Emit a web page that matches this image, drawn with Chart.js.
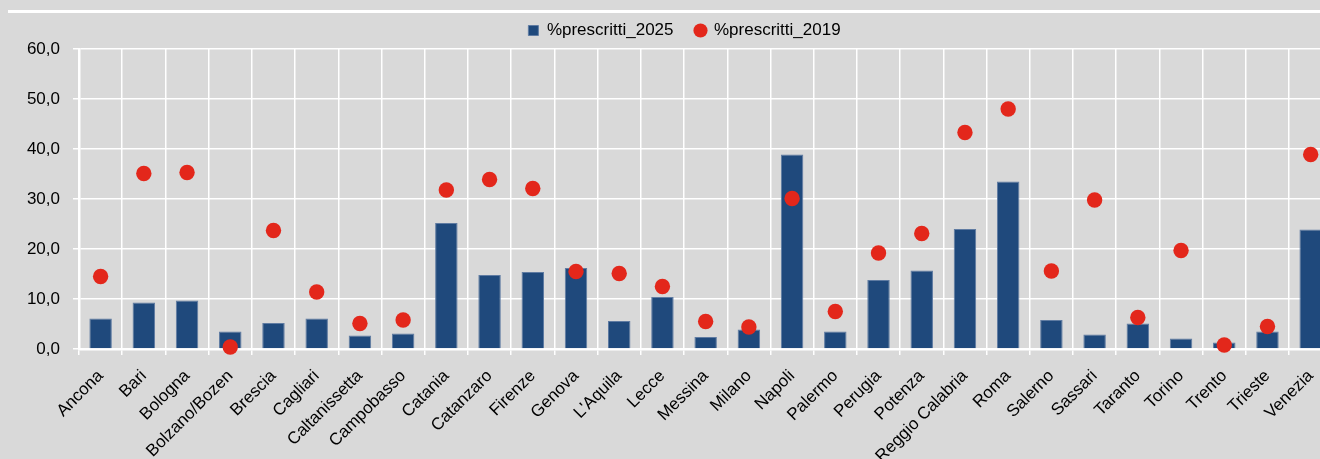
<!DOCTYPE html>
<html>
<head>
<meta charset="utf-8">
<script src="https://cdn.jsdelivr.net/npm/chart.js@4/dist/chart.umd.min.js"></script>
<style>
  html, body { margin: 0; padding: 0; background: #d9d9d9; overflow: hidden; }
  #wrap { width: 1340px; height: 459px; position: relative; }
</style>
</head>
<body>
<div id="wrap"><canvas id="chart"></canvas></div>
<script>
const cities = ['Ancona', 'Bari', 'Bologna', 'Bolzano/Bozen', 'Brescia', 'Cagliari', 'Caltanissetta',
  'Campobasso', 'Catania', 'Catanzaro', 'Firenze', 'Genova', "L'Aquila", 'Lecce', 'Messina', 'Milano',
  'Napoli', 'Palermo', 'Perugia', 'Potenza', 'Reggio Calabria', 'Roma', 'Salerno', 'Sassari', 'Taranto',
  'Torino', 'Trento', 'Trieste', 'Venezia'];

const prescritti2025 = [6.1, 9.3, 9.7, 3.5, 5.2, 6.1, 2.7, 3.1, 25.2, 14.8, 15.4, 16.2, 5.6, 10.4, 2.4, 3.9,
  38.9, 3.5, 13.8, 15.7, 24.0, 33.5, 5.8, 2.9, 5.1, 2.1, 1.3, 3.5, 23.9];

const prescritti2019 = [14.5, 35.1, 35.3, 0.4, 23.7, 11.4, 5.1, 5.8, 31.8, 33.9, 32.1, 15.5, 15.1, 12.5, 5.5, 4.4,
  30.1, 7.5, 19.2, 23.1, 43.3, 48.0, 15.6, 29.8, 6.3, 19.7, 0.8, 4.5, 38.9];

const yTicks = [0, 10, 20, 30, 40, 50, 60];

// background + white rule at the top, legend nudged right like the original
const frame = {
  id: 'frame',
  afterLayout(chart) {
    if (chart.legend) {
      chart.legend.left += 17;
      chart.legend.right += 17;
    }
  },
  beforeDraw(chart) {
    const ctx = chart.ctx;
    ctx.save();
    ctx.fillStyle = '#d9d9d9';
    ctx.fillRect(0, 0, chart.width, chart.height);
    ctx.fillStyle = '#ffffff';
    ctx.fillRect(8, 10, chart.width, 3);
    ctx.restore();
  }
};

const font = { family: '"Liberation Sans", Arial, sans-serif', size: 17 };

new Chart(document.getElementById('chart').getContext('2d'), {
  data: {
    labels: cities,
    datasets: [{
      type: 'bar',
      label: '%prescritti_2025',
      data: prescritti2025,
      backgroundColor: '#1f497c',
      borderColor: '#5f7ba2',
      borderWidth: 1,
      barPercentage: 0.52,
      categoryPercentage: 1,
      pointStyle: 'rect',
      order: 2
    }, {
      type: 'line',
      label: '%prescritti_2019',
      data: prescritti2019,
      showLine: false,
      backgroundColor: '#e3271b',
      borderColor: '#e3271b',
      borderWidth: 0,
      pointRadius: 7.7,
      pointHoverRadius: 7.7,
      pointStyle: 'circle',
      clip: false,
      order: 1
    }]
  },
  options: {
    responsive: true,
    maintainAspectRatio: false,
    animation: false,
    layout: {
      padding: { left: 0, right: 5, top: 0, bottom: 0 }
    },
    scales: {
      x: {
        offset: true,
        grid: {
          color: '#ffffff',
          lineWidth: 1.5,
          offset: true,
          tickLength: 6
        },
        border: { color: '#ffffff', width: 2.5 },
        ticks: {
          color: '#000',
          font: font,
          autoSkip: false,
          minRotation: 45,
          maxRotation: 45,
          padding: 11
        },
        afterFit: (scale) => { scale.height = 110; }
      },
      y: {
        min: 0,
        max: 60,
        afterBuildTicks: (scale) => { scale.ticks = yTicks.map(v => ({ value: v })); },
        grid: {
          color: '#ffffff',
          lineWidth: 1.5,
          tickLength: 6
        },
        border: { color: '#ffffff', width: 2.5 },
        ticks: {
          color: '#000',
          font: font,
          padding: 13,
          callback: (value) => value.toFixed(1).replace('.', ',')
        },
        afterFit: (scale) => { scale.width = 79; }
      }
    },
    plugins: {
      legend: {
        position: 'top',
        labels: {
          color: '#000',
          font: font,
          usePointStyle: true,
          boxWidth: 10,
          boxHeight: 10,
          padding: 22,
          sort: (a, b) => a.datasetIndex - b.datasetIndex
        }
      },
      tooltip: { enabled: false }
    }
  },
  plugins: [frame]
});
</script>
</body>
</html>
